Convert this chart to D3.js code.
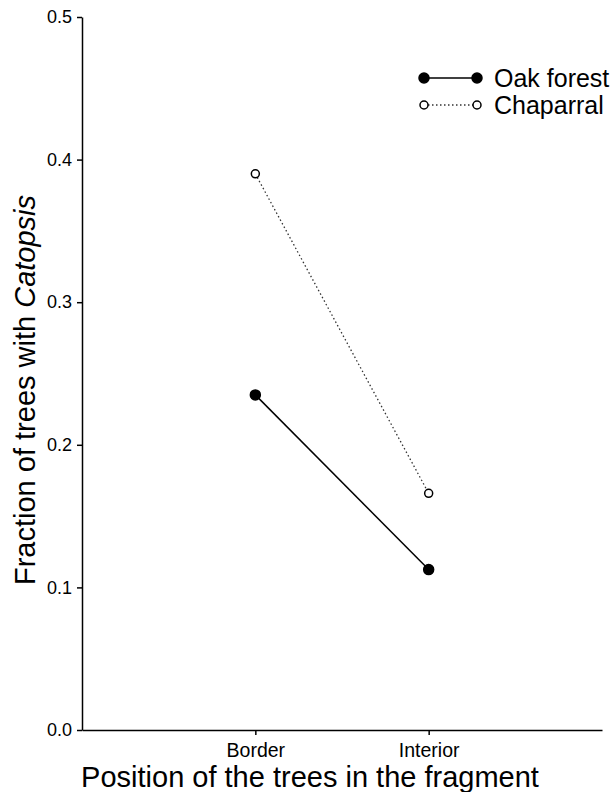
<!DOCTYPE html>
<html>
<head>
<meta charset="utf-8">
<script src="https://cdn.jsdelivr.net/npm/d3@7"></script>
<style>
  body { margin: 0; background: #fff; }
  svg { font-family: "Liberation Sans", Arial, sans-serif; }
  .axis path, .axis line { stroke: #000; stroke-width: 1.5; }
  .axis text { fill: #000; }
</style>
</head>
<body>
<div class="chart"></div>
<script>
var svgWidth = 616;
var svgHeight = 792;

// data
var positions = ["Border", "Interior"];
var oakForest = [0.235, 0.1125];
var chaparral = [0.39, 0.166];
var yTicks = [0, 0.1, 0.2, 0.3, 0.4, 0.5];
var seriesNames = ["Oak forest", "Chaparral"];

var margin = { top: 17, right: 14, bottom: 62, left: 82 };
var width = svgWidth - margin.left - margin.right;
var height = svgHeight - margin.top - margin.bottom;

var svg = d3.select(".chart")
  .append("svg")
  .attr("width", svgWidth)
  .attr("height", svgHeight);

var chartGroup = svg.append("g")
  .attr("transform", `translate(${margin.left}, ${margin.top})`);

var xScale = d3.scalePoint()
  .domain(positions)
  .range([0, width])
  .padding(1);

var yScale = d3.scaleLinear()
  .domain([0, 0.5])
  .range([height, 0]);

// axes
var bottomAxis = d3.axisBottom(xScale).tickSize(5).tickSizeOuter(0).tickPadding(8);
var leftAxis = d3.axisLeft(yScale).tickValues(yTicks).tickFormat(d3.format(".1f"))
  .tickSize(5).tickSizeOuter(0).tickPadding(5);

chartGroup.append("g")
  .attr("class", "axis")
  .attr("transform", `translate(0, ${height})`)
  .call(bottomAxis)
  .selectAll("text")
  .attr("font-size", "19.5px");

chartGroup.append("g")
  .attr("class", "axis")
  .call(leftAxis)
  .selectAll("text")
  .attr("font-size", "18px");

chartGroup.selectAll(".axis text").attr("font-family", null);

// series
var series = [
  { name: seriesNames[0], values: oakForest, dash: null, fill: "#000", r: 5, color: "#000", sw: 1.5 },
  { name: seriesNames[1], values: chaparral, dash: "1.5,2.5", fill: "#fff", r: 4, color: "#333", sw: 1.3 }
];

var line = d3.line()
  .x((d, i) => xScale(positions[i]))
  .y(d => yScale(d));

series.forEach(function (s) {
  chartGroup.append("path")
    .datum(s.values)
    .attr("d", line)
    .attr("fill", "none")
    .attr("stroke", s.color)
    .attr("stroke-width", s.sw)
    .attr("stroke-dasharray", s.dash);

  chartGroup.selectAll(null)
    .data(s.values)
    .enter()
    .append("circle")
    .attr("cx", (d, i) => xScale(positions[i]))
    .attr("cy", d => yScale(d))
    .attr("r", s.r)
    .attr("fill", s.fill)
    .attr("stroke", "#000")
    .attr("stroke-width", 1.5);
});

// legend
var legend = svg.append("g");
series.forEach(function (s, i) {
  var ly = 78 + i * 27;
  legend.append("line")
    .attr("x1", 424).attr("x2", 477)
    .attr("y1", ly).attr("y2", ly)
    .attr("stroke", s.color)
    .attr("stroke-width", s.sw)
    .attr("stroke-dasharray", s.dash);
  [424, 477].forEach(function (cx) {
    legend.append("circle")
      .attr("cx", cx).attr("cy", ly)
      .attr("r", s.r)
      .attr("fill", s.fill)
      .attr("stroke", "#000")
      .attr("stroke-width", 1.5);
  });
  legend.append("text")
    .attr("x", 494)
    .attr("y", ly)
    .attr("dy", "0.35em")
    .attr("font-size", "25px")
    .text(s.name);
});

// axis titles
svg.append("text")
  .attr("x", 310)
  .attr("y", 787)
  .attr("text-anchor", "middle")
  .attr("font-size", "29px")
  .text("Position of the trees in the fragment");

var yTitle = svg.append("text")
  .attr("transform", "translate(35, 390) rotate(-90)")
  .attr("text-anchor", "middle")
  .attr("font-size", "29px");
yTitle.append("tspan").text("Fraction of trees with ");
yTitle.append("tspan").attr("font-style", "italic").text("Catopsis");
</script>
</body>
</html>
